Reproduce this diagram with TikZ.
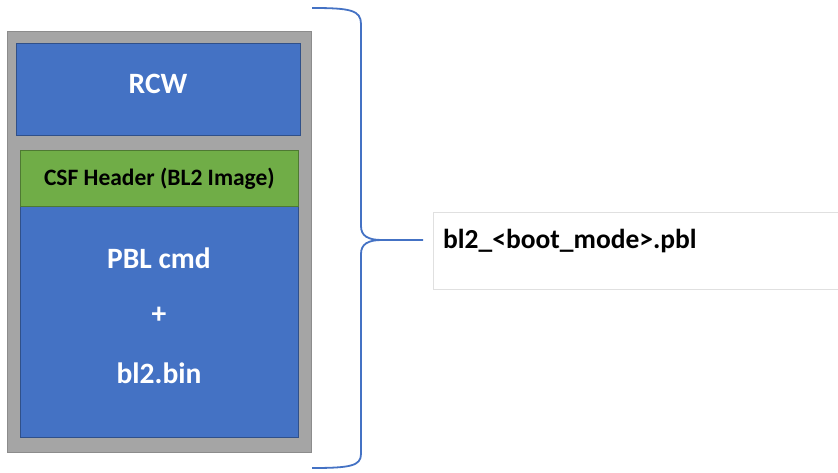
\documentclass[tikz,border=0pt]{standalone}
\usepackage{fontspec}
\setmainfont{Carlito}
\definecolor{boxblue}{HTML}{4472C4}
\definecolor{boxgreen}{HTML}{70AD47}
\definecolor{framegray}{HTML}{A5A5A5}
\begin{document}
\begin{tikzpicture}[x=1pt,y=-1pt,
    frame/.style={draw=black!45, fill=framegray, line width=1pt, anchor=north west, inner sep=0pt},
    blk/.style={draw=boxblue!70!black, fill=boxblue, line width=0.8pt, anchor=north west, inner sep=0pt},
    hdr/.style={draw=boxgreen!70!black, fill=boxgreen, line width=0.8pt, anchor=north west, inner sep=0pt, font=\bfseries\fontsize{23.5}{28}\selectfont},
    wtxt/.style={text=white, font=\bfseries\fontsize{29.5}{34}\selectfont, inner sep=0pt},
    brace/.style={draw=boxblue, line width=1.8pt}]
    \useasboundingbox (0,0) rectangle (838,473);

    % Image frame
    \node (frame) [frame, minimum width=304pt, minimum height=421pt] at (7,31) {};
    \node (rcw) [blk, minimum width=284pt, minimum height=92pt] at (16,43) {};
    \node (body) [blk, minimum width=278pt, minimum height=231pt] at (20,206) {};
    \node (hdr) [hdr, minimum width=278pt, minimum height=56pt] at (20,150) {CSF Header (BL2 Image)};

    % Labels
    \node (rcwtxt) [wtxt] at (158,84) {RCW};
    \node (pbl) [wtxt] at (159,258) {PBL cmd};
    \node (plus) [wtxt] at (159,315) {+};
    \node (bin) [wtxt] at (159,373) {bl2.bin};

    % Output file
    \node (out) [draw=black!12, line width=0.8pt, anchor=north west, minimum width=420pt, minimum height=77pt] at (433,212) {};
    \node (outtxt) [anchor=base west, inner sep=0pt, font=\bfseries\fontsize{27.5}{32}\selectfont] at (443,248) {bl2\_<boot\_mode>.pbl};

    % Brace
    \coordinate (bt) at (312,8);
    \coordinate (bb) at (312,468);
    \coordinate (tip) at (423,240);
    \draw[brace] (bt) .. controls (350,8) and (361,10) .. (361,24) -- (361,226)
        .. controls (361,236) and (368,240) .. (382,240) -- (tip);
    \draw[brace] (382,240) .. controls (368,240) and (361,244) .. (361,254) -- (361,454)
        .. controls (361,466) and (350,468) .. (bb);

\end{tikzpicture}
\end{document}
